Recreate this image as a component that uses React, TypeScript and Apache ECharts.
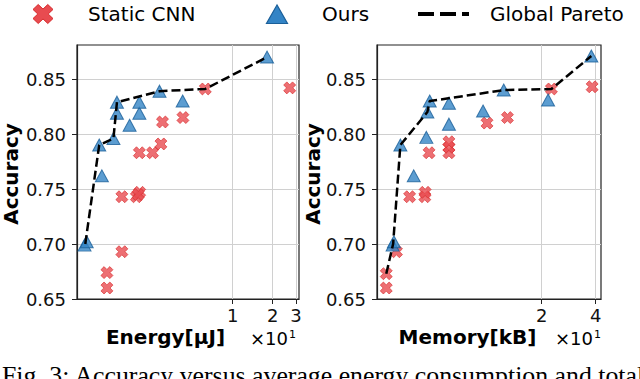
import React, { useEffect, useRef } from "react";
import * as echarts from "echarts";

// ---------- data (energy in units of 10 uJ, memory in units of 10 kB) ----------
const STATIC_ENERGY: [number, number][] = [
  [0.1135, 0.66], [0.1135, 0.674], [0.147, 0.693], [0.147, 0.743], [0.189, 0.743],
  [0.2, 0.747], [0.195, 0.745], [0.199, 0.783], [0.25, 0.783], [0.289, 0.791],
  [0.297, 0.811], [0.423, 0.815], [0.623, 0.841], [2.685, 0.842],
];
const OURS_ENERGY: [number, number][] = [
  [0.077, 0.699], [0.08, 0.702], [0.0993, 0.79], [0.104, 0.762], [0.127, 0.796],
  [0.135, 0.819], [0.135, 0.829], [0.168, 0.808], [0.199, 0.819], [0.199, 0.829],
  [0.282, 0.839], [0.421, 0.83], [1.815, 0.87],
];
const PARETO_ENERGY: [number, number][] = [
  [0.078, 0.7], [0.0993, 0.79], [0.127, 0.796], [0.135, 0.829], [0.282, 0.839],
  [0.623, 0.841], [1.815, 0.87],
];
const STATIC_MEMORY: [number, number][] = [
  [0.272, 0.66], [0.272, 0.673], [0.31, 0.693], [0.367, 0.743], [0.446, 0.743],
  [0.448, 0.747], [0.471, 0.783], [0.608, 0.783], [0.608, 0.788], [0.608, 0.793],
  [0.991, 0.81], [1.288, 0.815], [2.265, 0.841], [3.82, 0.843],
];
const OURS_MEMORY: [number, number][] = [
  [0.295, 0.699], [0.3, 0.702], [0.326, 0.79], [0.387, 0.762], [0.455, 0.797],
  [0.461, 0.82], [0.475, 0.83], [0.608, 0.828], [0.608, 0.809], [0.942, 0.821],
  [1.228, 0.84], [2.17, 0.831], [3.78, 0.871],
];
const PARETO_MEMORY: [number, number][] = [
  [0.272, 0.673], [0.297, 0.7], [0.326, 0.79], [0.461, 0.82], [0.475, 0.83],
  [1.228, 0.84], [2.265, 0.841], [3.78, 0.871],
];

const ENERGY_TICKS = [1, 2, 3];
const MEMORY_TICKS = [2, 4];
const ACC_TICKS = [0.65, 0.7, 0.75, 0.8, 0.85];
const ENERGY_RANGE = [0.0676, 3.155];
const MEMORY_RANGE = [0.2415, 4.28];
const ACC_RANGE = [0.65, 0.881];

const SERIES_NAMES = ["Static CNN", "Ours", "Global Pareto"];
const X_TITLES = ["Energy[μJ]", "Memory[kB]"];
const Y_TITLE = "Accuracy";
const OFFSET_BASE = "×10";
const OFFSET_EXP = "1";
const CAPTION = "Fig. 3: Accuracy versus average energy consumption and total";

// ---------- styles ----------
const FRAME = "#222222";
const GRID = "#d0d0d0";
const RED_FILL = "#e84b50";
const RED_EDGE = "#d62728";
const BLUE_FILL = "#3384c6";
const BLUE_EDGE = "#1a5f99";
const FONT = '"DejaVu Sans", sans-serif';
const X_PATH =
  "M0,2.6 L2.6,0 L5,2.4 L7.4,0 L10,2.6 L7.6,5 L10,7.4 L7.4,10 L5,7.6 L2.6,10 L0,7.4 L2.4,5 Z";

echarts.graphic.registerShape("xmark", echarts.graphic.extendPath(X_PATH, {}));

const lg = (p: [number, number]) => [Math.log10(p[0]), p[1]];

function makeX(gridIndex: number, range: number[], ticks: number[]) {
  const tv = ticks.map((t) => Math.log10(t));
  return {
    type: "value",
    gridIndex,
    min: Math.log10(range[0]),
    max: Math.log10(range[1]),
    axisLine: { show: true, onZero: false, lineStyle: { color: FRAME, width: 1.2 } },
    axisTick: { show: true, length: 5, customValues: tv, lineStyle: { color: FRAME, width: 1 } },
    axisLabel: {
      customValues: tv,
      formatter: (v: number) => String(Math.round(Math.pow(10, v))),
      margin: 9,
      fontSize: 18,
      lineHeight: 14,
      fontFamily: FONT,
      color: "#111",
    },
    splitLine: { show: true, lineStyle: { color: GRID, width: 1 } },
  };
}

function makeY(gridIndex: number) {
  return {
    type: "value",
    gridIndex,
    min: ACC_RANGE[0],
    max: ACC_RANGE[1],
    axisLine: { show: true, onZero: false, lineStyle: { color: FRAME, width: 1.2 } },
    axisTick: { show: true, length: 5, customValues: ACC_TICKS, lineStyle: { color: FRAME, width: 1 } },
    axisLabel: {
      customValues: ACC_TICKS,
      formatter: (v: number) => v.toFixed(2),
      margin: 11,
      fontSize: 18,
      fontFamily: FONT,
      color: "#111",
    },
    splitLine: { show: true, lineStyle: { color: GRID, width: 1 } },
  };
}

function scatterStatic(idx: number, data: [number, number][]) {
  return {
    type: "scatter",
    name: SERIES_NAMES[0],
    xAxisIndex: idx,
    yAxisIndex: idx,
    data: data.map(lg),
    symbol: "path://" + X_PATH,
    symbolSize: 12,
    itemStyle: { color: RED_FILL, borderColor: RED_EDGE, borderWidth: 0.8 },
    z: 3,
  };
}
function scatterOurs(idx: number, data: [number, number][]) {
  return {
    type: "scatter",
    name: SERIES_NAMES[1],
    xAxisIndex: idx,
    yAxisIndex: idx,
    data: data.map(lg),
    symbol: "triangle",
    symbolSize: [13, 12],
    itemStyle: { color: BLUE_FILL, borderColor: BLUE_EDGE, borderWidth: 1 },
    z: 4,
  };
}
function paretoLine(idx: number, data: [number, number][]) {
  return {
    type: "line",
    name: SERIES_NAMES[2],
    xAxisIndex: idx,
    yAxisIndex: idx,
    data: data.map(lg),
    showSymbol: false,
    symbol: "none",
    lineStyle: { color: "#000", width: 2.5, type: [9, 4] },
    z: 5,
  };
}

export default function App() {
  const ref = useRef<HTMLDivElement>(null);
  useEffect(() => {
    if (!ref.current) return;
    const chart = echarts.init(ref.current, undefined, { renderer: "svg" });
    const text = (
      t: string,
      x: number,
      y: number,
      font: string,
      align = "left",
      extra: any = {}
    ) => ({
      type: "text",
      x,
      y,
      silent: true,
      ...extra,
      style: { text: t, font, fill: "#000", align, verticalAlign: extra.va || "middle" },
    });
    chart.setOption({
      animation: false,
      backgroundColor: "#ffffff",
      grid: [
        { left: 77, top: 45, width: 222, height: 254, show: true, borderColor: FRAME, borderWidth: 1.2, backgroundColor: "transparent", outerBoundsMode: "none" },
        { left: 377, top: 45, width: 224, height: 254, show: true, borderColor: FRAME, borderWidth: 1.2, backgroundColor: "transparent", outerBoundsMode: "none" },
      ],
      xAxis: [makeX(0, ENERGY_RANGE, ENERGY_TICKS), makeX(1, MEMORY_RANGE, MEMORY_TICKS)],
      yAxis: [makeY(0), makeY(1)],
      series: [
        scatterStatic(0, STATIC_ENERGY),
        scatterOurs(0, OURS_ENERGY),
        paretoLine(0, PARETO_ENERGY),
        scatterStatic(1, STATIC_MEMORY),
        scatterOurs(1, OURS_MEMORY),
        paretoLine(1, PARETO_MEMORY),
      ],
      graphic: [
        // legend
        { type: "xmark", x: 33, y: 4.5, scaleX: 2, scaleY: 1.9, silent: true, style: { fill: RED_FILL, stroke: RED_EDGE, lineWidth: 0.5 } },
        text(SERIES_NAMES[0], 88, 14, `20px ${FONT}`),
        { type: "polygon", silent: true, shape: { points: [[277, 5], [266.5, 23.5], [287.5, 23.5]] }, style: { fill: BLUE_FILL, stroke: BLUE_EDGE, lineWidth: 1.2 } },
        text(SERIES_NAMES[1], 322, 14, `20px ${FONT}`),
        { type: "line", silent: true, shape: { x1: 418, y1: 14, x2: 469, y2: 14 }, style: { stroke: "#000", lineWidth: 4, lineDash: [16, 6] } },
        text(SERIES_NAMES[2], 490, 14, `20px ${FONT}`),
        // axis titles
        text(Y_TITLE, 11, 174, `bold 20px ${FONT}`, "center", { rotation: Math.PI / 2 }),
        text(Y_TITLE, 312.5, 174, `bold 20px ${FONT}`, "center", { rotation: Math.PI / 2 }),
        text(X_TITLES[0], 165.5, 337, `bold 20px ${FONT}`, "center"),
        text(X_TITLES[1], 467.5, 337, `bold 20px ${FONT}`, "center"),
        // offset texts
        text(OFFSET_BASE, 250, 338, `18px ${FONT}`),
        text(OFFSET_EXP, 289, 334.5, `11px ${FONT}`),
        text(OFFSET_BASE, 555, 338, `18px ${FONT}`),
        text(OFFSET_EXP, 594, 334.5, `11px ${FONT}`),
        // caption
        text(CAPTION, 2, 362, '25.8px "Liberation Serif", serif', "left", { va: "top" }),
      ],
    });
    return () => chart.dispose();
  }, []);
  return (
    <div
      ref={ref}
      style={{ position: "fixed", left: 0, top: 0, width: 640, height: 379, background: "#fff" }}
    />
  );
}
